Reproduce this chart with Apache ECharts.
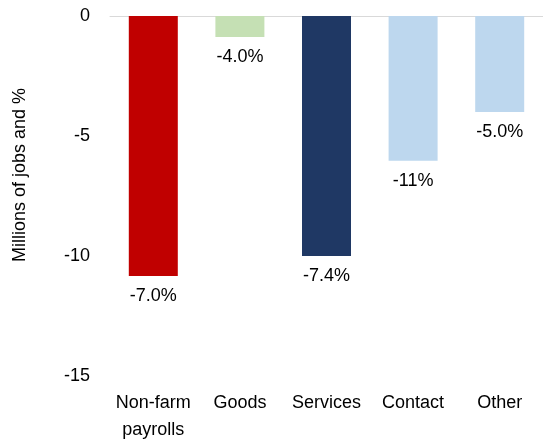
<!DOCTYPE html>
<html>
<head>
<meta charset="utf-8">
<script src="https://cdn.jsdelivr.net/npm/echarts@6/dist/echarts.min.js"></script>
<style>
html,body{margin:0;padding:0;background:#fff;}
#chart{width:543px;height:444px;}
</style>
</head>
<body>
<div id="chart"></div>
<script>
var categories = ['Non-farm\npayrolls', 'Goods', 'Services', 'Contact', 'Other'];
var values = [-10.83, -0.87, -10.0, -6.03, -4.0];
var pctLabels = ['-7.0%', '-4.0%', '-7.4%', '-11%', '-5.0%'];
var barColors = ['#C00000', '#C5E0B4', '#1F3864', '#BDD7EE', '#BDD7EE'];
var yTicks = {min: -15, max: 0, interval: 5};
var yName = 'Millions of jobs and %';

var font = 'Liberation Sans, Arial, sans-serif';
var chart = echarts.init(document.getElementById('chart'), null, {renderer: 'canvas'});
chart.setOption({
  animation: false,
  backgroundColor: '#fff',
  grid: {left: 110, right: -6, top: 16, bottom: 65, containLabel: false},
  xAxis: [{
    type: 'category',
    data: categories,
    position: 'bottom',
    axisLine: {show: false, onZero: false},
    axisTick: {show: false},
    axisLabel: {color: '#000', fontSize: 18, fontFamily: font, margin: 14, lineHeight: 27, interval: 0}
  }, {
    type: 'category',
    data: categories,
    position: 'top',
    axisLine: {show: true, onZero: false, lineStyle: {color: '#D9D9D9', width: 1}},
    axisTick: {show: false},
    axisLabel: {show: false}
  }],
  yAxis: {
    type: 'value',
    min: yTicks.min,
    max: yTicks.max,
    interval: yTicks.interval,
    axisLine: {show: false},
    axisTick: {show: false},
    splitLine: {show: false},
    axisLabel: {color: '#000', fontSize: 18, fontFamily: font, margin: 20}
  },
  graphic: [{
    type: 'text',
    x: 20,
    y: 175,
    rotation: Math.PI / 2,
    style: {
      text: yName,
      fill: '#000',
      font: '18px ' + font,
      align: 'center',
      verticalAlign: 'middle'
    }
  }],
  series: [{
    type: 'bar',
    xAxisIndex: 0,
    barWidth: 49,
    data: values.map(function (v, i) {
      return {value: v, itemStyle: {color: barColors[i]}};
    }),
    label: {
      show: true,
      position: 'bottom',
      distance: 11,
      color: '#000',
      fontSize: 18,
      fontFamily: font,
      formatter: function (p) { return pctLabels[p.dataIndex]; }
    }
  }]
});
</script>
</body>
</html>
